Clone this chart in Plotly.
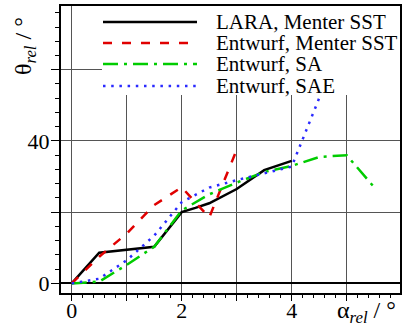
import plotly.graph_objects as go

# Relative angle data (alpha_rel -> theta_rel), degrees
alpha_lara_sst = [0, 0.5, 1.5, 2.0, 2.25, 2.5, 3.0, 3.5, 4.0]
theta_lara_sst = [0, 8.6, 10.3, 20.0, 21.2, 22.5, 26.5, 31.8, 34.4]

alpha_entw_sst = [0, 0.5, 1.0, 1.5, 2.0, 2.5, 3.0]
theta_entw_sst = [0, 7.5, 14.0, 22.0, 27.0, 18.5, 37.5]

alpha_entw_sa = [0, 0.5, 1.0, 1.5, 2.0, 2.5, 3.0, 3.5, 4.0, 4.5, 5.0, 5.5]
theta_entw_sa = [0, 0.5, 5.2, 10.3, 20.5, 25.0, 28.3, 31.3, 33.0, 35.5, 36.0, 27.0]

alpha_entw_sae = [0, 0.5, 1.0, 1.5, 2.0, 2.5, 3.0, 3.5, 4.0, 4.5]
theta_entw_sae = [0, 1.3, 6.5, 13.4, 22.8, 26.9, 29.0, 31.0, 32.8, 52.0]

series_names = ["LARA, Menter SST", "Entwurf, Menter SST", "Entwurf, SA", "Entwurf, SAE"]
series_colors = ["#000000", "#e00000", "#00cc00", "#2a2aff"]
series_dash = ["solid", "9px,10px", "15px,6px,3px,6px", "2.5px,5.7px"]
series_width = [2.5, 2.5, 2.5, 2.5]

x_tickvals = [0, 1, 2, 3, 4, 5]
x_ticktext = ["0", "", "2", "", "4", ""]
y_tickvals = [0, 20, 40, 60]
y_ticktext = ["0", "", "40", ""]

FONT = "Liberation Serif"

fig = go.Figure()
data = [
    (alpha_lara_sst, theta_lara_sst),
    (alpha_entw_sst, theta_entw_sst),
    (alpha_entw_sa, theta_entw_sa),
    (alpha_entw_sae, theta_entw_sae),
]
for (xs, ys), name, col, dash, w in zip(data, series_names, series_colors, series_dash, series_width):
    fig.add_trace(go.Scatter(x=xs, y=ys, mode="lines", name=name,
                             line=dict(color=col, dash=dash, width=w),
                             showlegend=False))

L, R, T, B = 61, 2, 6, 35
W, H = 402, 328
pw, ph = W - L - R, H - T - B


def px_x(px):
    return (px - L) / pw


def px_y(py):
    return (H - B - py) / ph


shapes = []
# white legend panel over the grid
shapes.append(dict(type="rect", xref="x", yref="y", x0=0.55, x1=5.97, y0=52.9, y1=77.9,
                   fillcolor="white", line=dict(width=0), layer="between"))

annotations = []
row_y = [22, 43, 64, 86]
for name, col, dash, w, ry in zip(series_names, series_colors, series_dash, series_width, row_y):
    shapes.append(dict(type="line", xref="paper", yref="paper",
                       x0=px_x(103), x1=px_x(197), y0=px_y(ry), y1=px_y(ry),
                       line=dict(color=col, dash=dash, width=w), layer="above"))
    annotations.append(dict(text=name, xref="paper", yref="paper", x=px_x(214), y=px_y(ry),
                            xanchor="left", yanchor="middle", showarrow=False,
                            font=dict(family=FONT, size=21, color="black")))

# axis titles
annotations.append(dict(text="θ<sub><i>rel</i></sub> / °", xref="paper", yref="paper",
                        x=px_x(25), y=px_y(46), xanchor="center", yanchor="middle",
                        textangle=-90, showarrow=False,
                        font=dict(family=FONT, size=24, color="black")))
annotations.append(dict(text="α<sub><i>rel</i></sub> / °", xref="paper", yref="paper",
                        x=px_x(366), y=px_y(312), xanchor="center", yanchor="middle",
                        showarrow=False,
                        font=dict(family=FONT, size=24, color="black")))

fig.update_layout(
    width=W, height=H,
    margin=dict(l=L, r=R, t=T, b=B, pad=0, autoexpand=False),
    paper_bgcolor="white", plot_bgcolor="white",
    font=dict(family=FONT, size=22, color="black"),
    shapes=shapes, annotations=annotations,
    showlegend=False,
)
fig.update_xaxes(
    range=[-0.195, 5.97], tickmode="array", tickvals=x_tickvals, ticktext=x_ticktext,
    automargin=False, ticklabelstandoff=-9,
    showgrid=True, gridcolor="#555555", gridwidth=1.3, zeroline=False,
    showline=True, linecolor="black", linewidth=2, mirror=True,
    ticks="outside", ticklen=6, tickwidth=1.3, tickcolor="black",
    minor=dict(tickmode="linear", tick0=0, dtick=0.2, ticks="outside", ticklen=3,
               tickwidth=1.2, tickcolor="black", showgrid=False),
    tickfont=dict(family=FONT, size=22, color="black"),
)
fig.update_yaxes(
    range=[-2.7, 77.9], tickmode="array", tickvals=y_tickvals, ticktext=y_ticktext,
    automargin=False, ticklabelstandoff=-3,
    showgrid=True, gridcolor="#555555", gridwidth=1.3,
    zeroline=True, zerolinecolor="black", zerolinewidth=1.6,
    showline=True, linecolor="black", linewidth=2, mirror=True,
    ticks="outside", ticklen=8, tickwidth=1.3, tickcolor="black",
    minor=dict(tickmode="linear", tick0=0, dtick=4, ticks="outside", ticklen=4,
               tickwidth=1.2, tickcolor="black", showgrid=False),
    tickfont=dict(family=FONT, size=22, color="black"),
)

fig.write_html("out.html")
